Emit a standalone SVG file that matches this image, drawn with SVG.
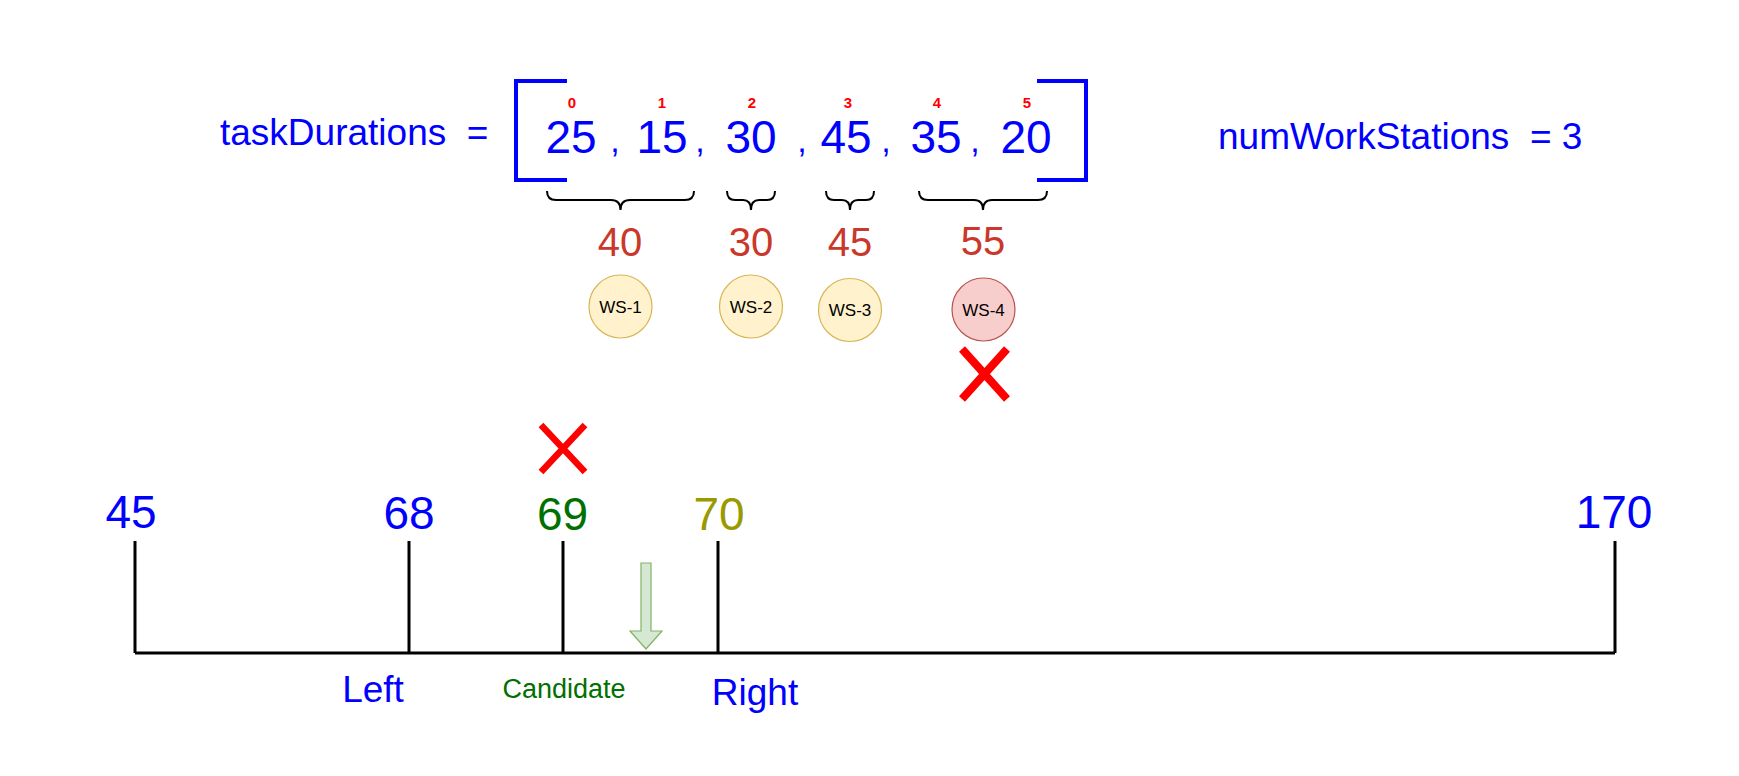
<svg xmlns="http://www.w3.org/2000/svg" width="1739" height="776" viewBox="0 0 1739 776">
<style>
text{font-family:"Liberation Sans",Arial,Helvetica,sans-serif}
.blue{fill:#0000FF}
.big{font-size:46px}
.lbl{font-size:37px}
.idx{font-size:15px;font-weight:bold;fill:#FF0000}
.comma{font-size:34px;fill:#0000FF}
.sum{font-size:40px;fill:#C9382A}
.ws{font-size:17px;fill:#000}
.brace{fill:none;stroke:#000;stroke-width:2}
.axis{stroke:#000;stroke-width:3;fill:none}
.x{stroke:#FF0000;fill:none}
.yel{fill:#fff2cc;stroke:#d6b656;stroke-width:1.2}
.red{fill:#f8cecc;stroke:#b85450;stroke-width:1.2}
.brk{fill:none;stroke:#0000FF;stroke-width:4}
</style>
<rect width="1739" height="776" fill="#ffffff"/>

<g id="title-left">
<text x="220" y="145" class="lbl blue" xml:space="preserve">taskDurations  =</text>
</g>
<g id="title-right">
<text x="1218" y="149" class="lbl blue" xml:space="preserve">numWorkStations  = 3</text>
</g>

<g id="array">
<path class="brk" d="M567,81 H516 V180 H567"/>
<path class="brk" d="M1037,81 H1086 V180 H1037"/>
<g text-anchor="middle">
<text x="571" y="153" class="big blue">25</text>
<text x="662" y="153" class="big blue">15</text>
<text x="751" y="153" class="big blue">30</text>
<text x="846" y="153" class="big blue">45</text>
<text x="936" y="153" class="big blue">35</text>
<text x="1026" y="153" class="big blue">20</text>
<text x="615" y="152" class="comma">,</text>
<text x="700" y="152" class="comma">,</text>
<text x="802" y="152" class="comma">,</text>
<text x="886" y="152" class="comma">,</text>
<text x="975" y="152" class="comma">,</text>
<text x="572" y="108" class="idx">0</text>
<text x="662" y="108" class="idx">1</text>
<text x="752" y="108" class="idx">2</text>
<text x="848" y="108" class="idx">3</text>
<text x="937" y="108" class="idx">4</text>
<text x="1027" y="108" class="idx">5</text>
</g>
</g>

<g id="connectors">
<path class="brace" d="M547,191 Q547,200 556,200 H611 Q620.5,200 620.5,210 Q620.5,200 630,200 H685 Q694,200 694,191"/>
<path class="brace" d="M727,191 Q727,200 735,200 H743 Q751,200 751,210 Q751,200 759,200 H767 Q775,200 775,191"/>
<path class="brace" d="M826,191 Q826,200 834,200 H842 Q850,200 850,210 Q850,200 858,200 H866 Q874,200 874,191"/>
<path class="brace" d="M919,191 Q919,200 928,200 H974 Q983,200 983,210 Q983,200 992,200 H1038 Q1047,200 1047,191"/>
<path class="axis" d="M135,653 H1615"/>
<path class="axis" d="M135,541 V653 M409,541 V653 M563,541 V653 M718,541 V653 M1615,541 V653"/>
</g>

<g id="sums" text-anchor="middle">
<text x="620" y="256" class="sum">40</text>
<text x="751" y="256" class="sum">30</text>
<text x="850" y="256" class="sum">45</text>
<text x="983" y="255" class="sum">55</text>
</g>

<g id="ws-1"><circle cx="620.5" cy="306.5" r="31.5" class="yel"/><text x="620.5" y="313" text-anchor="middle" class="ws">WS-1</text></g>
<g id="ws-2"><circle cx="751" cy="306.5" r="31.5" class="yel"/><text x="751" y="313" text-anchor="middle" class="ws">WS-2</text></g>
<g id="ws-3"><circle cx="850" cy="310" r="31.5" class="yel"/><text x="850" y="316" text-anchor="middle" class="ws">WS-3</text></g>
<g id="ws-4"><circle cx="983.5" cy="309.5" r="31.5" class="red"/><text x="983.5" y="316" text-anchor="middle" class="ws">WS-4</text></g>

<g id="cross-ws4"><path class="x" stroke-width="8" d="M962,349 L1007,399 M1007,349 L962,399"/></g>
<g id="cross-69"><path class="x" stroke-width="6.5" d="M541,425 L585,472 M585,425 L541,472"/></g>

<g id="axis-labels" text-anchor="middle">
<text x="131" y="528" class="big blue">45</text>
<text x="409" y="529" class="big blue">68</text>
<text x="562.5" y="530" class="big" fill="#007000">69</text>
<text x="719" y="530" class="big" fill="#999900">70</text>
<text x="1614" y="528" class="big blue">170</text>
<text x="373" y="702" class="lbl blue">Left</text>
<text x="564" y="698" font-size="27" fill="#007000">Candidate</text>
<text x="755" y="705" class="lbl blue">Right</text>
</g>

<g id="arrow">
<polygon points="641,563 651,563 651,631 662,631 646,649 630,631 641,631" fill="#d5e8d4" stroke="#82b366" stroke-width="1.2"/>
</g>
</svg>
